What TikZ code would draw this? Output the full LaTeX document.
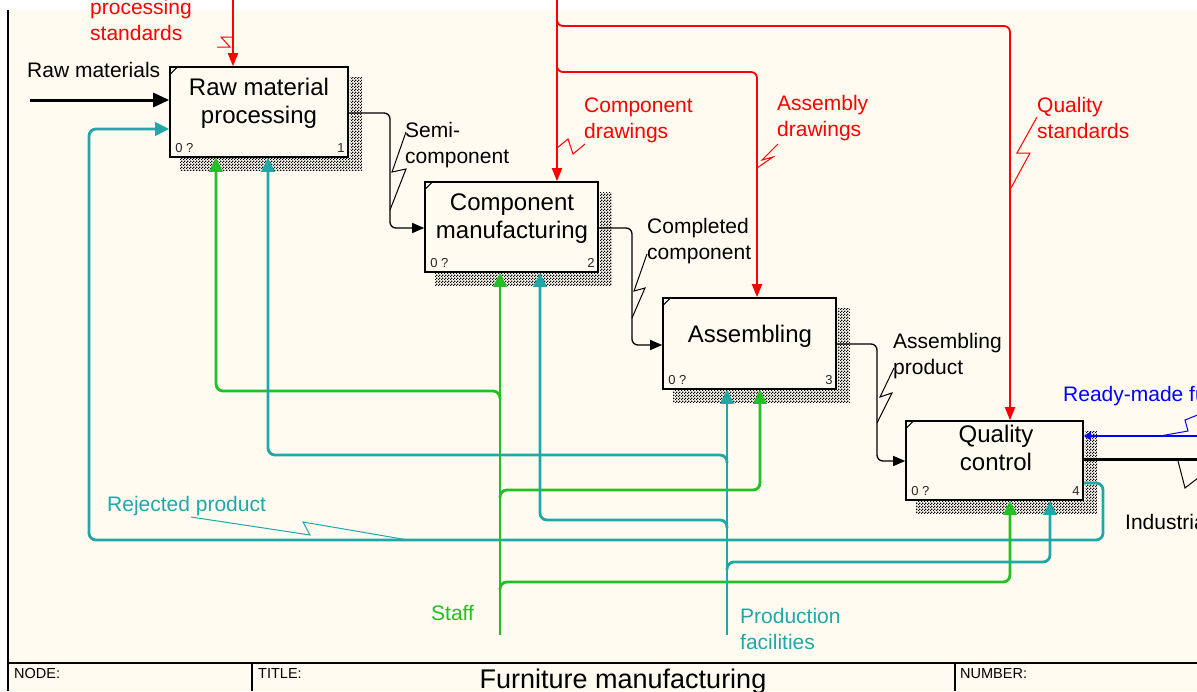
\documentclass[tikz,border=0pt]{standalone}
\usepackage{fontspec}
\setmainfont{Liberation Sans}
\usetikzlibrary{arrows.meta,calc,patterns.meta}
\definecolor{cream}{RGB}{255,251,240}
\definecolor{idgreen}{RGB}{34,192,34}
\definecolor{idteal}{RGB}{32,168,168}
\definecolor{idred}{RGB}{255,0,0}
\definecolor{idblue}{RGB}{0,0,255}
\tikzdeclarepattern{name=shadowhatch, type=uncolored,
  bounding box={(0pt,0pt) and (3pt,3pt)}, tile size={(3pt,3pt)},
  code={\fill (0pt,0pt) rectangle (1.5pt,1.5pt); \fill (1.5pt,1.5pt) rectangle (3pt,3pt);}}
\begin{document}
\begin{tikzpicture}[x=1pt,y=-1pt,
  box/.style={draw=black, line width=1.6pt, fill=cream, inner sep=0pt},
  btxt/.style={font=\fontsize{24}{28}\selectfont, align=center, anchor=base, inner sep=0pt},
  lbl/.style={font=\fontsize{21}{26}\selectfont, align=left, anchor=base west, inner sep=0pt},
  smalltxt/.style={font=\fontsize{13}{15}\selectfont, inner sep=0pt, text=black!85},
  tb/.style={font=\fontsize{14.5}{16}\selectfont, anchor=base west, inner sep=0pt},
  conn/.style={line width=1.3pt, rounded corners=6pt, -{Triangle[length=12pt,width=10pt]}},
  mech/.style={line width=2.8pt, rounded corners=7pt},
  mtip/.style={-{Triangle[length=14pt,width=13pt]}},
  ctrl/.style={idred, line width=1.8pt, rounded corners=6pt},
  ctip/.style={-{Triangle[length=13pt,width=10pt]}},
  sq/.style={line width=1pt},
  shad/.style={pattern=shadowhatch, pattern color=black},
]
\useasboundingbox (0,0) rectangle (1197,691);
\clip (0,0) rectangle (1197,691);
\fill[white] (0,0) rectangle (1197,691);
\fill[cream] (8,10) rectangle (1197,691);

% boxes
\node[box, minimum width=178pt, minimum height=90pt] (b1) at (259,112) {};
\node[box, minimum width=173pt, minimum height=90pt] (b2) at (511.5,227) {};
\node[box, minimum width=173pt, minimum height=91pt] (b3) at (749.5,343.5) {};
\node[box, minimum width=177pt, minimum height=79pt] (b4) at (994.5,460.5) {};

\foreach \b in {b1,b2,b3,b4}{
  \fill[shad] ($(\b.north east)+(1,11)$) rectangle ($(\b.south east)+(13,13)$);
  \fill[shad] ($(\b.south west)+(11,1)$) rectangle ($(\b.south east)+(1,13)$);
  \draw[line width=1pt] ($(\b.north west)+(0,9)$) -- ($(\b.north west)+(9,0)$);
}

% multi-line texts: anchor base = baseline of the last line
\node[btxt] (t1) at (259,123) {Raw material\\processing};
\node[btxt] (t2) at (512,238) {Component\\manufacturing};
\node[btxt] (t3) at (750,342) {Assembling};
\node[btxt] (t4) at (996,470) {Quality\\control};

\foreach \b/\n in {b1/1,b2/2,b3/3,b4/4}{
  \node[smalltxt, anchor=base west] (z\b) at ($(\b.south west)+(6,-5)$) {0 ?};
  \node[smalltxt, anchor=base east] (n\b) at ($(\b.south east)+(-4,-5)$) {\n};
}

% inputs
\coordinate (rmS) at (30,100);
\draw[line width=3pt, -{Triangle[length=16pt,width=14pt]}] (rmS) -- (b1.west |- rmS);

\draw[conn] (b1.east |- 0,113) -- (390,113) -- (390,228) -- (b2.west |- 0,228);
\draw[conn] (b2.east |- 0,228) -- (632,228) -- (632,345) -- (b3.west |- 0,345);
\draw[conn] (b3.east |- 0,344) -- (877,344) -- (877,461) -- (b4.west |- 0,461);

% rejected product loop
\draw[idteal, mech, mtip] (b4.east |- 0,483) -- (1103,483) -- (1103,540) -- (89,540) -- (89,129) -- (b1.west |- 0,129);

% staff
\coordinate (staffS) at (500,635);
\draw[idgreen, mech, mtip] (staffS) -- (b2.south -| staffS);
\draw[idgreen, mech, mtip] (500,399) -- (500,391) -- (216,391) -- (b1.south -| 216,0);
\draw[idgreen, mech, mtip] (500,498) -- (500,490) -- (760,490) -- (b3.south -| 760,0);
\draw[idgreen, mech, mtip] (500,590) -- (500,582) -- (1010,582) -- (b4.south -| 1010,0);

% production facilities
\coordinate (facS) at (727,635);
\draw[idteal, mech, mtip] (facS) -- (b3.south -| facS);
\draw[idteal, mech, mtip] (727,463) -- (727,455) -- (268,455) -- (b1.south -| 268,0);
\draw[idteal, mech, mtip] (727,528) -- (727,520) -- (540,520) -- (b2.south -| 540,0);
\draw[idteal, mech, mtip] (727,570) -- (727,562) -- (1050,562) -- (b4.south -| 1050,0);

% controls
\coordinate (ctl1) at (233,0);
\draw[ctrl, ctip] (ctl1) -- (b1.north -| ctl1);
\coordinate (ctl2) at (557,0);
\draw[ctrl, ctip] (ctl2) -- (b2.north -| ctl2);
\draw[ctrl, ctip] (557,18) -- (557,26) -- (1010,26) -- (b4.north -| 1010,0);
\draw[ctrl, ctip] (557,64) -- (557,72) -- (757,72) -- (b3.north -| 757,0);

% outputs
\coordinate (rdyE) at (1197,436);
\draw[idblue, line width=2.8pt, -{Triangle[length=7pt,width=8pt]}] (rdyE) -- (b4.east |- rdyE);
\coordinate (indE) at (1197,459);
\draw[black, line width=3pt] (b4.east |- indE) -- (indE);

% squiggles
\draw[sq, idred] (234,37) -- (221,37) -- (230,47) -- (217,47);
\draw[sq] (390,210) -- (406,169) -- (392,172) -- (406,132);
\draw[sq] (632,318) -- (645,288) -- (634,291) -- (647,254);
\draw[sq] (877,423) -- (892,393) -- (880,397) -- (894,368);
\draw[sq, idred] (557,148) -- (568,139) -- (573,154) -- (585,144);
\draw[sq, idred] (757,168) -- (773,157) -- (762,160) -- (778,144);
\draw[sq, idred] (1011,188) -- (1030,153) -- (1017,153) -- (1037,117);
\draw[sq, idteal] (191,517) -- (310,535) -- (303,522) -- (408,540);
\draw[sq, idblue] (1160,436) -- (1188,431) -- (1185,420) -- (1200,414);
\draw[sq] (1178,461) -- (1185,488) -- (1198,478);

% labels
\node[lbl] (lrm) at (27,77) {Raw materials};
\node[lbl, text=idred] (lrps) at (90,40) {processing\\standards};
\node[lbl] (lsemi) at (405,163) {Semi-\\component};
\node[lbl, text=idred] (lcd) at (584,138) {Component\\drawings};
\node[lbl, text=idred] (lad) at (777,136) {Assembly\\drawings};
\node[lbl, text=idred] (lqs) at (1037,138) {Quality\\standards};
\node[lbl] (lcc) at (647,259) {Completed\\component};
\node[lbl] (lap) at (893,374) {Assembling\\product};
\node[lbl, text=idblue] (lrdy) at (1063,401) {Ready-made furniture};
\node[lbl] (lind) at (1125,529) {Industrial waste};
\node[lbl, text=idteal] (lrej) at (107,511) {Rejected product};
\node[lbl, text=idgreen] (lstaff) at (431,620) {Staff};
\node[lbl, text=idteal] (lfac) at (740,649) {Production\\facilities};

% frame and title bar
\draw[line width=1.5pt] (8,10) -- (8,691);
\draw[line width=1.5pt] (8,663) -- (1197,663);
\draw[line width=1.5pt] (252,663) -- (252,691);
\draw[line width=1.5pt] (955,663) -- (955,691);
\node[tb] (tnode) at (14,678) {NODE:};
\node[tb] (ttitle) at (258,678) {TITLE:};
\node[tb] (tnum) at (960,678) {NUMBER:};
\node[font=\fontsize{27}{30}\selectfont, anchor=base, inner sep=0pt] (ttl) at (623,688) {Furniture manufacturing};
\end{tikzpicture}
\end{document}
